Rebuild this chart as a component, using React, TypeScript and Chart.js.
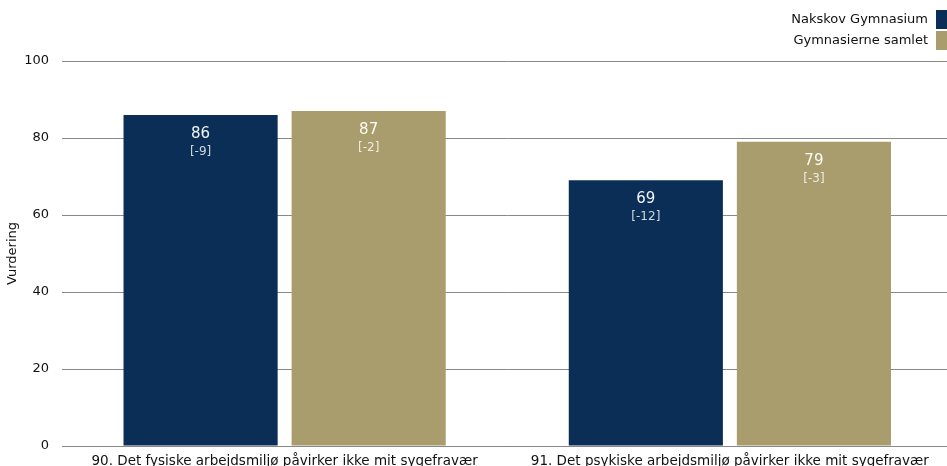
import React, { useEffect, useRef } from "react";
import { Chart, registerables } from "chart.js";

Chart.register(...registerables);

const categories = [
  "90. Det fysiske arbejdsmiljø påvirker ikke mit sygefravær",
  "91. Det psykiske arbejdsmiljø påvirker ikke mit sygefravær",
];
const seriesNames = ["Nakskov Gymnasium", "Gymnasierne samlet"];
const nakskovValues = [86, 69];
const samletValues = [87, 79];
const nakskovDiffs = ["[-9]", "[-12]"];
const samletDiffs = ["[-2]", "[-3]"];
const yTicks = [0, 20, 40, 60, 80, 100];

const NAVY = "#0b2e56";
const GOLD = "#a99d6d";
const FONT = "'DejaVu Sans', Verdana, sans-serif";

export default function App() {
  const ref = useRef<HTMLCanvasElement | null>(null);

  useEffect(() => {
    document.body.style.margin = "0";
    document.body.style.overflow = "hidden";
    document.documentElement.style.overflow = "hidden";
    const diffs = [nakskovDiffs, samletDiffs];

    const labelPlugin = {
      id: "barLabels",
      afterDatasetsDraw(chart: any) {
        const ctx = chart.ctx;
        ctx.save();
        ctx.textAlign = "center";
        ctx.textBaseline = "middle";
        chart.data.datasets.forEach((ds: any, di: number) => {
          const meta = chart.getDatasetMeta(di);
          meta.data.forEach((bar: any, i: number) => {
            ctx.fillStyle = "rgba(255,255,255,0.95)";
            ctx.font = `15px ${FONT}`;
            ctx.fillText(String(ds.data[i]), bar.x, bar.y + 19);
            ctx.fillStyle = "rgba(255,255,255,0.8)";
            ctx.font = `12px ${FONT}`;
            ctx.fillText(diffs[di][i], bar.x, bar.y + 37);
          });
        });
        ctx.restore();
      },
    };

    const legendPlugin = {
      id: "rightLegend",
      afterDraw(chart: any) {
        const ctx = chart.ctx;
        ctx.save();
        ctx.font = `13px ${FONT}`;
        ctx.textAlign = "right";
        ctx.textBaseline = "middle";
        const colors = [NAVY, GOLD];
        seriesNames.forEach((name, i) => {
          const top = 10 + i * 21;
          ctx.fillStyle = colors[i];
          ctx.fillRect(936, top, 11, 19);
          ctx.fillStyle = "#111111";
          ctx.fillText(name, 928, top + 9.5);
        });
        ctx.restore();
      },
    };

    const chart = new Chart(ref.current!, {
      type: "bar",
      data: {
        labels: categories,
        datasets: [
          { label: seriesNames[0], data: nakskovValues, backgroundColor: NAVY },
          { label: seriesNames[1], data: samletValues, backgroundColor: GOLD },
        ],
      },
      options: {
        responsive: false,
        animation: false,
        maintainAspectRatio: false,
        layout: { padding: { top: 61, right: 7.5, bottom: 0, left: 0 } },
        datasets: {
          bar: { categoryPercentage: 0.755, barPercentage: 0.917 },
        } as any,
        plugins: {
          legend: { display: false },
          tooltip: { enabled: false },
        },
        scales: {
          x: {
            grid: { display: false, drawTicks: false },
            border: { display: true, color: "#888888" },
            ticks: {
              color: "#111111",
              font: { family: FONT, size: 13.5 },
              padding: 7,
              maxRotation: 0,
              autoSkip: false,
            },
            afterFit(scale: any) {
              scale.height = 34;
            },
          },
          y: {
            min: 0,
            max: 100,
            afterBuildTicks(scale: any) {
              scale.ticks = yTicks.map((v) => ({ value: v }));
            },
            grid: { color: "#888888", drawTicks: false },
            border: { display: false },
            ticks: {
              color: "#111111",
              font: { family: FONT, size: 13 },
              padding: 13,
            },
            title: {
              display: true,
              text: "Vurdering",
              color: "#111111",
              font: { family: FONT, size: 13 },
              padding: { top: 5, bottom: 0 },
            },
            afterFit(scale: any) {
              scale.width = 62;
            },
          },
        },
      },
      plugins: [labelPlugin, legendPlugin],
    });
    return () => chart.destroy();
  }, []);

  return (
    <div style={{ width: 960, height: 480, position: "relative" }}>
      <canvas ref={ref} width={960} height={480} style={{ display: "block" }} />
    </div>
  );
}
